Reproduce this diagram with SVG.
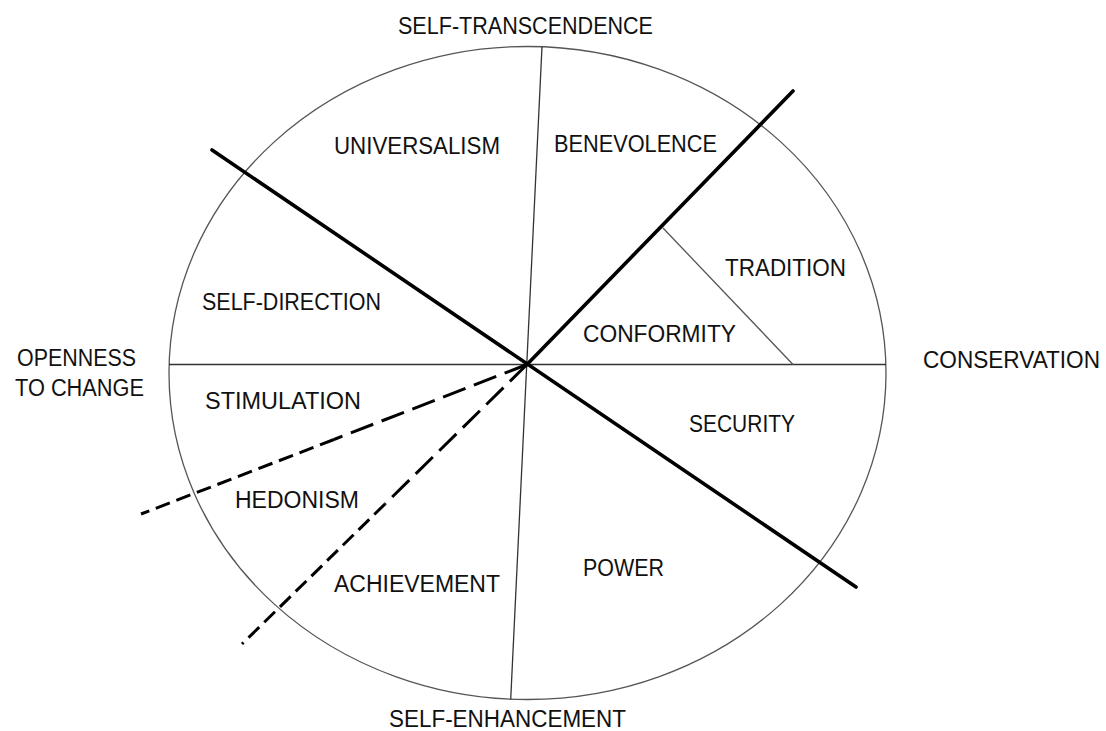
<svg xmlns="http://www.w3.org/2000/svg" width="1106" height="731" viewBox="0 0 1106 731">
<style>
.lbl{font-family:"Liberation Sans",Arial,sans-serif;font-size:23px;fill:#111;}
.thin{stroke:#333;stroke-width:1.3;fill:none;}
.thick{stroke:#000;stroke-width:3.6;fill:none;stroke-linecap:round;}
.dash1{stroke:#000;stroke-width:3;fill:none;stroke-dasharray:24 9;}
.dash2{stroke:#000;stroke-width:3;fill:none;stroke-dasharray:15 7;}
</style>
<rect width="1106" height="731" fill="#fff"/>
<g id="circle">
<ellipse class="thin" cx="527.5" cy="373" rx="358.5" ry="326.5" style="stroke:#555"/>
</g>
<g id="connectors">
<line class="thin" x1="169" y1="364.5" x2="886" y2="364.5"/>
<line class="thin" x1="542" y1="46.5" x2="510.7" y2="699.5"/>
<line class="thin" x1="663" y1="228" x2="793" y2="364.5" style="stroke:#555"/>
<line class="thick" x1="212" y1="150" x2="856" y2="587"/>
<line class="thick" x1="527" y1="364.5" x2="793" y2="91"/>
<line class="dash1" x1="527" y1="364.5" x2="334" y2="439.5"/>
<line class="dash2" x1="334" y1="439.5" x2="141" y2="514"/>
<line class="dash1" x1="527" y1="364.5" x2="385" y2="504"/>
<line class="dash2" x1="385" y1="504" x2="242" y2="644"/>
</g>
<g id="self-transcendence"><text class="lbl" x="398" y="34.3" textLength="255" lengthAdjust="spacingAndGlyphs">SELF-TRANSCENDENCE</text></g>
<g id="self-enhancement"><text class="lbl" x="389" y="726.5" textLength="237" lengthAdjust="spacingAndGlyphs">SELF-ENHANCEMENT</text></g>
<g id="openness"><text class="lbl" x="17" y="366" textLength="119" lengthAdjust="spacingAndGlyphs">OPENNESS</text><text class="lbl" x="15" y="396" textLength="129" lengthAdjust="spacingAndGlyphs">TO CHANGE</text></g>
<g id="conservation"><text class="lbl" x="923" y="368" textLength="177" lengthAdjust="spacingAndGlyphs">CONSERVATION</text></g>
<g id="universalism"><text class="lbl" x="334" y="154" textLength="166" lengthAdjust="spacingAndGlyphs">UNIVERSALISM</text></g>
<g id="benevolence"><text class="lbl" x="554" y="152" textLength="163" lengthAdjust="spacingAndGlyphs">BENEVOLENCE</text></g>
<g id="tradition"><text class="lbl" x="725" y="276" textLength="121" lengthAdjust="spacingAndGlyphs">TRADITION</text></g>
<g id="conformity"><text class="lbl" x="583" y="342" textLength="153" lengthAdjust="spacingAndGlyphs">CONFORMITY</text></g>
<g id="self-direction"><text class="lbl" x="202" y="310" textLength="179" lengthAdjust="spacingAndGlyphs">SELF-DIRECTION</text></g>
<g id="stimulation"><text class="lbl" x="205" y="409" textLength="156" lengthAdjust="spacingAndGlyphs">STIMULATION</text></g>
<g id="hedonism"><text class="lbl" x="235" y="508" textLength="124" lengthAdjust="spacingAndGlyphs">HEDONISM</text></g>
<g id="achievement"><text class="lbl" x="334" y="592" textLength="166" lengthAdjust="spacingAndGlyphs">ACHIEVEMENT</text></g>
<g id="power"><text class="lbl" x="583" y="576" textLength="81" lengthAdjust="spacingAndGlyphs">POWER</text></g>
<g id="security"><text class="lbl" x="689" y="432" textLength="106" lengthAdjust="spacingAndGlyphs">SECURITY</text></g>
</svg>
